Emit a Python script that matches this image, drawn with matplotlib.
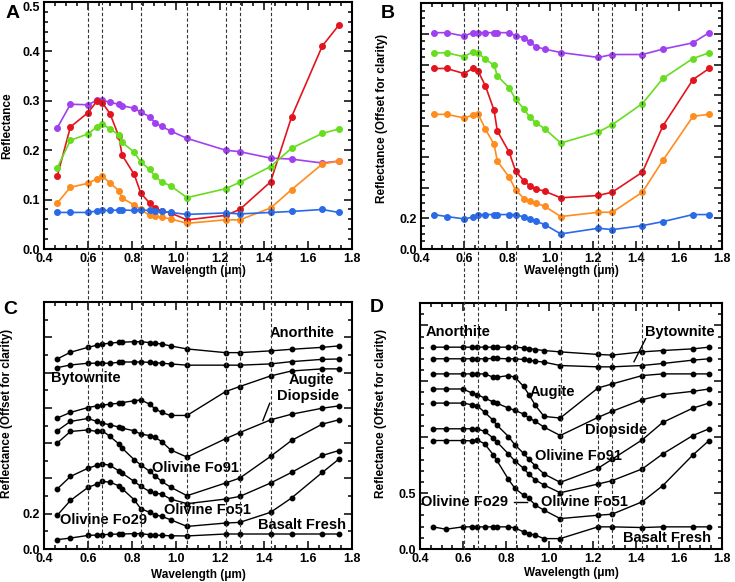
import matplotlib
matplotlib.use('Agg')
import matplotlib.pyplot as plt
from matplotlib.lines import Line2D
from matplotlib.transforms import blended_transform_factory
from matplotlib.ticker import MultipleLocator

plt.rcParams['font.family'] = ['Liberation Sans', 'DejaVu Sans']
plt.rcParams['font.weight'] = 'bold'

# band centres (um)
wl = [0.46, 0.52, 0.60, 0.64, 0.665, 0.70, 0.74, 0.755, 0.81, 0.84, 0.88,
      0.905, 0.935, 0.975, 1.05, 1.225, 1.29, 1.43, 1.525, 1.665, 1.74]
band_lines = [0.60, 0.665, 0.84, 1.05, 1.225, 1.29, 1.43]

# panel A - reflectance
a_purple = [0.245, 0.293, 0.292, 0.301, 0.301, 0.297, 0.293, 0.290, 0.285, 0.277, 0.268,
            0.255, 0.248, 0.239, 0.224, 0.200, 0.197, 0.184, 0.182, 0.174, 0.178]
a_red = [0.147, 0.247, 0.276, 0.299, 0.296, 0.274, 0.228, 0.190, 0.151, 0.113, 0.093,
         0.083, 0.077, 0.073, 0.059, 0.068, 0.080, 0.136, 0.267, 0.411, 0.453]
a_green = [0.164, 0.220, 0.233, 0.247, 0.253, 0.243, 0.231, 0.216, 0.196, 0.176, 0.161,
           0.147, 0.136, 0.128, 0.104, 0.122, 0.135, 0.167, 0.204, 0.234, 0.243]
a_orange = [0.093, 0.125, 0.133, 0.142, 0.147, 0.134, 0.118, 0.103, 0.089, 0.080, 0.068,
            0.066, 0.064, 0.061, 0.052, 0.059, 0.059, 0.083, 0.120, 0.172, 0.178]
a_blue = [0.074, 0.074, 0.074, 0.077, 0.078, 0.078, 0.079, 0.079, 0.078, 0.079, 0.078,
          0.077, 0.076, 0.074, 0.070, 0.073, 0.071, 0.074, 0.076, 0.080, 0.074]

# panel B - offset
b_purple = [1.407, 1.407, 1.385, 1.407, 1.407, 1.407, 1.407, 1.407, 1.407, 1.387, 1.374,
            1.348, 1.315, 1.300, 1.278, 1.246, 1.265, 1.265, 1.300, 1.341, 1.407]
b_green = [1.276, 1.276, 1.250, 1.283, 1.276, 1.233, 1.196, 1.126, 1.048, 0.974, 0.909,
           0.859, 0.820, 0.783, 0.689, 0.761, 0.809, 0.946, 1.109, 1.239, 1.276]
b_red = [1.174, 1.174, 1.141, 1.174, 1.159, 1.059, 0.902, 0.767, 0.630, 0.507, 0.441,
         0.413, 0.391, 0.376, 0.333, 0.348, 0.370, 0.500, 0.800, 1.102, 1.174]
b_orange = [0.876, 0.876, 0.852, 0.870, 0.880, 0.778, 0.680, 0.572, 0.467, 0.385, 0.326,
            0.311, 0.298, 0.278, 0.211, 0.239, 0.239, 0.370, 0.576, 0.863, 0.876]
b_blue = [0.224, 0.211, 0.196, 0.207, 0.224, 0.224, 0.224, 0.224, 0.224, 0.224, 0.207,
          0.196, 0.180, 0.159, 0.098, 0.135, 0.126, 0.152, 0.178, 0.224, 0.224]

# panel C - library spectra (offset)
c_anorthite = [1.077, 1.115, 1.143, 1.155, 1.162, 1.166, 1.172, 1.172, 1.175, 1.175, 1.170,
               1.166, 1.162, 1.151, 1.134, 1.113, 1.113, 1.123, 1.132, 1.143, 1.151]
c_bytownite = [1.028, 1.043, 1.053, 1.053, 1.053, 1.053, 1.058, 1.060, 1.060, 1.060, 1.058,
               1.056, 1.053, 1.049, 1.042, 1.042, 1.042, 1.049, 1.062, 1.075, 1.077]
c_augite = [0.742, 0.774, 0.802, 0.811, 0.815, 0.821, 0.826, 0.830, 0.840, 0.845, 0.821,
            0.794, 0.774, 0.757, 0.757, 0.892, 0.921, 0.981, 1.009, 1.021, 1.021]
c_diopside = [0.670, 0.723, 0.740, 0.723, 0.713, 0.704, 0.691, 0.685, 0.670, 0.651, 0.643,
              0.632, 0.609, 0.562, 0.521, 0.625, 0.660, 0.732, 0.764, 0.798, 0.811]
c_fo91 = [0.600, 0.666, 0.675, 0.666, 0.670, 0.638, 0.596, 0.572, 0.506, 0.477, 0.440,
          0.415, 0.383, 0.351, 0.302, 0.374, 0.402, 0.525, 0.615, 0.708, 0.732]
c_fo51 = [0.340, 0.411, 0.458, 0.474, 0.483, 0.474, 0.443, 0.430, 0.383, 0.355, 0.326,
          0.317, 0.311, 0.283, 0.257, 0.283, 0.298, 0.374, 0.434, 0.530, 0.558]
c_fo29 = [0.191, 0.275, 0.349, 0.368, 0.383, 0.379, 0.358, 0.342, 0.279, 0.228, 0.208,
          0.194, 0.185, 0.166, 0.128, 0.147, 0.151, 0.208, 0.289, 0.434, 0.509]
c_basalt = [0.053, 0.062, 0.077, 0.079, 0.081, 0.083, 0.085, 0.085, 0.087, 0.087, 0.081,
            0.079, 0.077, 0.075, 0.074, 0.085, 0.085, 0.085, 0.085, 0.085, 0.085]

# panel D - continuum removed (offset)
d_anorthite = [1.805, 1.805, 1.805, 1.805, 1.805, 1.805, 1.805, 1.805, 1.805, 1.805, 1.799,
               1.793, 1.784, 1.775, 1.763, 1.740, 1.734, 1.763, 1.775, 1.790, 1.805]
d_bytownite = [1.701, 1.701, 1.701, 1.701, 1.701, 1.701, 1.704, 1.704, 1.701, 1.701, 1.695,
               1.689, 1.680, 1.671, 1.641, 1.629, 1.629, 1.641, 1.659, 1.689, 1.701]
d_augite = [1.566, 1.566, 1.566, 1.566, 1.566, 1.566, 1.536, 1.536, 1.551, 1.536, 1.455,
            1.380, 1.284, 1.186, 1.171, 1.440, 1.476, 1.551, 1.566, 1.566, 1.566]
d_diopside = [1.431, 1.431, 1.431, 1.395, 1.380, 1.350, 1.314, 1.305, 1.260, 1.240, 1.207,
              1.171, 1.141, 1.090, 1.015, 1.177, 1.231, 1.335, 1.380, 1.410, 1.431]
d_fo91 = [1.305, 1.305, 1.305, 1.290, 1.281, 1.222, 1.150, 1.111, 1.006, 0.931, 0.856,
          0.802, 0.743, 0.671, 0.596, 0.722, 0.802, 0.976, 1.132, 1.260, 1.305]
d_fo51 = [1.075, 1.075, 1.075, 1.075, 1.075, 1.051, 0.991, 0.961, 0.850, 0.787, 0.722,
          0.668, 0.617, 0.572, 0.503, 0.581, 0.611, 0.716, 0.850, 1.015, 1.075]
d_fo29 = [0.970, 0.970, 0.970, 0.967, 0.976, 0.940, 0.841, 0.796, 0.623, 0.542, 0.482,
          0.452, 0.392, 0.347, 0.272, 0.302, 0.311, 0.422, 0.566, 0.841, 0.970]
d_basalt = [0.198, 0.177, 0.198, 0.198, 0.198, 0.198, 0.198, 0.198, 0.198, 0.189, 0.153,
            0.138, 0.123, 0.093, 0.093, 0.198, 0.198, 0.192, 0.198, 0.198, 0.198]

colors = {'purple': '#a040f0', 'red': '#e4141e', 'green': '#66dd1e',
          'orange': '#ff8c1e', 'blue': '#2a6ae6'}


def style(ax, ylim, yticks, ylabels, yminor):
    ax.set_xlim(0.4, 1.8)
    ax.set_ylim(*ylim)
    ax.xaxis.set_major_locator(MultipleLocator(0.2))
    ax.xaxis.set_minor_locator(MultipleLocator(0.05))
    ax.set_yticks(yticks)
    ax.set_yticklabels(ylabels)
    ax.yaxis.set_minor_locator(MultipleLocator(yminor))
    ax.tick_params(which='both', direction='in', top=True, right=True, width=1.1,
                   labelsize=9, pad=3)
    ax.tick_params(which='major', length=6)
    ax.tick_params(which='minor', length=3)
    for lab in ax.get_xticklabels() + ax.get_yticklabels():
        lab.set_fontweight('bold')
    for s in ax.spines.values():
        s.set_linewidth(1.5)
    ax.set_xlabel('Wavelength (\u03bcm)', fontsize=8.5, fontweight='bold')


fig = plt.figure(figsize=(7.35, 5.82), dpi=100)
W, H = 735.0, 582.0
axA = fig.add_axes([44 / W, 1 - 249 / H, 308 / W, 247 / H])
axB = fig.add_axes([421 / W, 1 - 249 / H, 301 / W, 246 / H])
axC = fig.add_axes([44 / W, 1 - 549 / H, 308 / W, 247 / H])
axD = fig.add_axes([420 / W, 1 - 549 / H, 302 / W, 246 / H])

# A
for ys, c in [(a_purple, 'purple'), (a_red, 'red'), (a_green, 'green'),
              (a_orange, 'orange'), (a_blue, 'blue')]:
    axA.plot(wl, ys, '-o', color=colors[c], lw=1.2, ms=4, mec=colors[c])
style(axA, (0, 0.5), [0, 0.1, 0.2, 0.3, 0.4, 0.5],
      ['0.0', '0.1', '0.2', '0.3', '0.4', '0.5'], 0.02)
axA.get_yticklabels()[-1].set_va('top')
axA.set_ylabel('Reflectance', fontsize=8.5, fontweight='bold')
axA.yaxis.set_label_coords(-0.1, 0.5)
axA.xaxis.set_label_coords(0.5, -0.065)

# B
for ys, c in [(b_purple, 'purple'), (b_green, 'green'), (b_red, 'red'),
              (b_orange, 'orange'), (b_blue, 'blue')]:
    axB.plot(wl, ys, '-o', color=colors[c], lw=1.2, ms=4, mec=colors[c])
bt = [0, 0.2, 0.4, 0.6, 0.8, 1.0, 1.2, 1.4]
style(axB, (0, 1.6), bt, ['0.0', '0.2'] + [''] * 6, 0.05)
axB.set_ylabel('Reflectance (Offset for clarity)', fontsize=8.5, fontweight='bold')
axB.yaxis.set_label_coords(-0.11, 0.53)
axB.xaxis.set_label_coords(0.5, -0.065)

# C
for ys in [c_anorthite, c_bytownite, c_augite, c_diopside, c_fo91, c_fo51, c_fo29, c_basalt]:
    axC.plot(wl, ys, '-o', color='black', lw=1.0, ms=3.2)
ct = [0, 0.2, 0.4, 0.6, 0.8, 1.0, 1.2]
style(axC, (0, 1.4), ct, ['0.0', '0.2'] + [''] * 5, 0.1)
axC.set_ylabel('Reflectance (Offset for clarity)', fontsize=8.5, fontweight='bold')
axC.yaxis.set_label_coords(-0.1, 0.55)
axC.xaxis.set_label_coords(0.5, -0.08)
kw = dict(fontsize=10.5, fontweight='bold', ha='center', va='center')
axC.text(1.571, 1.226, 'Anorthite', **kw)
axC.text(0.59, 0.968, 'Bytownite', **kw)
axC.text(1.617, 0.958, 'Augite', **kw)
axC.text(1.60, 0.868, 'Diopside', **kw)
axC.plot([1.426, 1.395], [0.826, 0.728], color='black', lw=1.0)
axC.text(1.09, 0.458, 'Olivine Fo91', **kw)
axC.text(1.143, 0.223, 'Olivine Fo51', **kw)
axC.text(0.67, 0.166, 'Olivine Fo29', **kw)
axC.text(1.571, 0.138, 'Basalt Fresh', **kw)

# D
for ys in [d_anorthite, d_bytownite, d_augite, d_diopside, d_fo91, d_fo51, d_fo29, d_basalt]:
    axD.plot(wl, ys, '-o', color='black', lw=1.0, ms=3.2)
dt = [0, 0.5, 1.0, 1.5, 2.0]
style(axD, (0, 2.2), dt, ['0.0', '0.5', '', '', ''], 0.1)
axD.set_ylabel('Reflectance (Offset for clarity)', fontsize=8.5, fontweight='bold')
axD.yaxis.set_label_coords(-0.11, 0.55)
axD.xaxis.set_label_coords(0.5, -0.075)
axD.text(0.576, 1.94, 'Anorthite', **kw)
axD.text(1.606, 1.94, 'Bytownite', **kw)
axD.plot([1.446, 1.392], [1.88, 1.675], color='black', lw=1.0)
axD.text(1.015, 1.401, 'Augite', **kw)
axD.text(1.308, 1.066, 'Diopside', **kw)
axD.text(1.133, 0.835, 'Olivine Fo91', **kw)
axD.text(0.606, 0.416, 'Olivine Fo29', **kw)
axD.plot([0.835, 0.895], [0.416, 0.416], color='black', lw=1.0)
axD.text(1.163, 0.416, 'Olivine Fo51', **kw)
axD.text(1.545, 0.102, 'Basalt Fresh', **kw)

# dashed band lines running through both rows
for top_ax, bot_ax in [(axA, axC), (axB, axD)]:
    tr = blended_transform_factory(top_ax.transData, fig.transFigure)
    y_hi = top_ax.get_position().y1
    y_lo = bot_ax.get_position().y0
    for b in band_lines:
        fig.add_artist(Line2D([b, b], [y_lo, y_hi], transform=tr, color='0.2',
                              lw=0.8, linestyle=(0, (3, 2)), zorder=5))

# panel letters
for txt, x, y in [('A', 13, 14), ('B', 388, 14), ('C', 10, 309), ('D', 377, 308)]:
    fig.text(x / W, 1 - y / H, txt, fontsize=14, fontweight='bold',
             ha='center', va='center')

fig.savefig('out.png', dpi=100)
